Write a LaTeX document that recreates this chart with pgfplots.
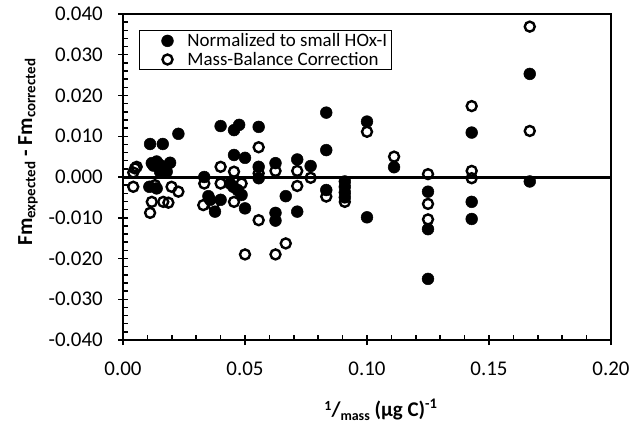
\documentclass[border=0pt]{standalone}
\usepackage{fontspec}
\setmainfont{Carlito}
\usepackage{pgfplots}
\pgfplotsset{compat=1.18}

% Normalized to small HOx-I
\pgfplotstableread{
x y
0.0108 -0.0024
0.0111 0.0081
0.0163 0.0081
0.0227 0.0106
0.0118 0.0034
0.0138 0.0038
0.0125 0.0028
0.0193 0.0035
0.0152 0.0013
0.0179 0.0013
0.0138 -0.0028
0.0150 0.0030
0.0333 0.0000
0.0350 -0.0047
0.0357 -0.0056
0.0377 -0.0085
0.0400 -0.0056
0.0400 0.0125
0.0455 0.0115
0.0476 0.0128
0.0455 0.0054
0.0500 0.0047
0.0439 -0.0016
0.0452 -0.0024
0.0470 -0.0032
0.0486 -0.0044
0.0500 -0.0077
0.0556 0.0123
0.0556 0.0025
0.0556 -0.0003
0.0625 0.0034
0.0625 -0.0088
0.0625 -0.0107
0.0667 -0.0047
0.0714 0.0043
0.0714 -0.0085
0.0769 0.0027
0.0833 0.0158
0.0833 0.0066
0.0833 -0.0032
0.0909 -0.0011
0.0909 -0.0024
0.0909 -0.0038
0.0909 -0.0050
0.1000 0.0136
0.1000 -0.0099
0.1111 0.0024
0.1250 -0.0036
0.1250 -0.0128
0.1250 -0.0250
0.1429 0.0109
0.1429 -0.0061
0.1429 -0.0103
0.1667 0.0253
0.1667 -0.0011
}\normalized

% Mass-balance correction
\pgfplotstableread{
x y
0.0049 0.0021
0.0042 0.0011
0.0056 0.0025
0.0042 -0.0024
0.0131 -0.0020
0.0118 -0.0061
0.0111 -0.0088
0.0165 -0.0061
0.0186 -0.0063
0.0199 -0.0024
0.0227 -0.0036
0.0333 -0.0016
0.0329 -0.0069
0.0370 -0.0069
0.0400 0.0025
0.0400 -0.0016
0.0455 0.0013
0.0455 -0.0061
0.0486 -0.0016
0.0500 -0.0190
0.0556 0.0073
0.0556 0.0009
0.0556 -0.0106
0.0625 0.0015
0.0625 -0.0190
0.0667 -0.0163
0.0714 0.0015
0.0714 -0.0022
0.0769 -0.0002
0.0833 -0.0048
0.0909 -0.0061
0.1000 0.0111
0.1111 0.0050
0.1250 0.0007
0.1250 -0.0066
0.1250 -0.0104
0.1429 0.0174
0.1429 0.0015
0.1429 -0.0003
0.1667 0.0369
0.1667 0.0113
}\massbalance

\begin{document}
\begin{tikzpicture}[x=1bp,y=1bp]
\useasboundingbox (0,0) rectangle (632,428);
\begin{axis}[
  at={(123bp,88bp)}, anchor=south west,
  scale only axis, width=488bp, height=326bp,
  xmin=0, xmax=0.2, ymin=-0.04, ymax=0.04,
  xtick={0,0.05,0.1,0.15,0.2},
  ytick={-0.04,-0.03,-0.02,-0.01,0,0.01,0.02,0.03,0.04},
  minor x tick num=4, minor y tick num=4,
  scaled x ticks=false, scaled y ticks=false,
  tick pos=left,
  tick align=inside,
  major tick length=10bp, minor tick length=5bp,
  every major x tick/.append style={yshift=-5bp},
  every major y tick/.append style={xshift=-5bp},
  tick style={black, line width=1.5bp},
  axis line style={line width=1.3bp},
  /pgf/number format/assume math mode=true,
  tick label style={font=\fontsize{21}{21}\selectfont, inner sep=0pt},
  xticklabel style={anchor=north, yshift=-22bp,
    /pgf/number format/.cd, fixed, fixed zerofill, precision=2},
  yticklabel style={anchor=east, xshift=-20bp,
    /pgf/number format/.cd, fixed, fixed zerofill, precision=3},
  legend cell align=left,
  legend style={at={(rel axis cs:0.0328,0.951)}, anchor=north west,
    draw=black, line width=1.2bp, fill=white,
    font=\fontsize{19}{20}\selectfont,
    inner xsep=22bp, inner ysep=1bp, row sep=0pt,
    /tikz/every odd column/.append style={column sep=12bp}},
  clip=false,
]
\draw[line width=3bp] (axis cs:0,0) -- (axis cs:0.2,0);
\draw[line width=2.3bp] (rel axis cs:0,1) -- (rel axis cs:0,0) -- (rel axis cs:1,0);
\addplot[only marks, mark=*, mark size=5.9bp,
  mark options={draw=black, fill=black, line width=0.5bp}]
  table[x=x, y=y] {\normalized};
\addlegendentry{\makebox[180bp][l]{Normalized to small HOx-I}}
\addplot[only marks, mark=o, mark size=5.0bp,
  mark options={draw=black, line width=2.4bp}]
  table[x=x, y=y] {\massbalance};
\addlegendentry{\makebox[180bp][l]{Mass-Balance Correction}}
\end{axis}
\node[rotate=90, font=\bfseries\fontsize{21.5}{21.5}\selectfont]
  at (28,276) {Fm\textsubscript{expected} - Fm\textsubscript{corrected}};
\node[font=\bfseries\fontsize{21}{21}\selectfont] at (381,18)
  {\raisebox{6bp}{\fontsize{14}{14}\selectfont 1}/\raisebox{-4bp}{\fontsize{14}{14}\selectfont mass} (µg C)\textsuperscript{-1}};
\end{tikzpicture}
\end{document}
